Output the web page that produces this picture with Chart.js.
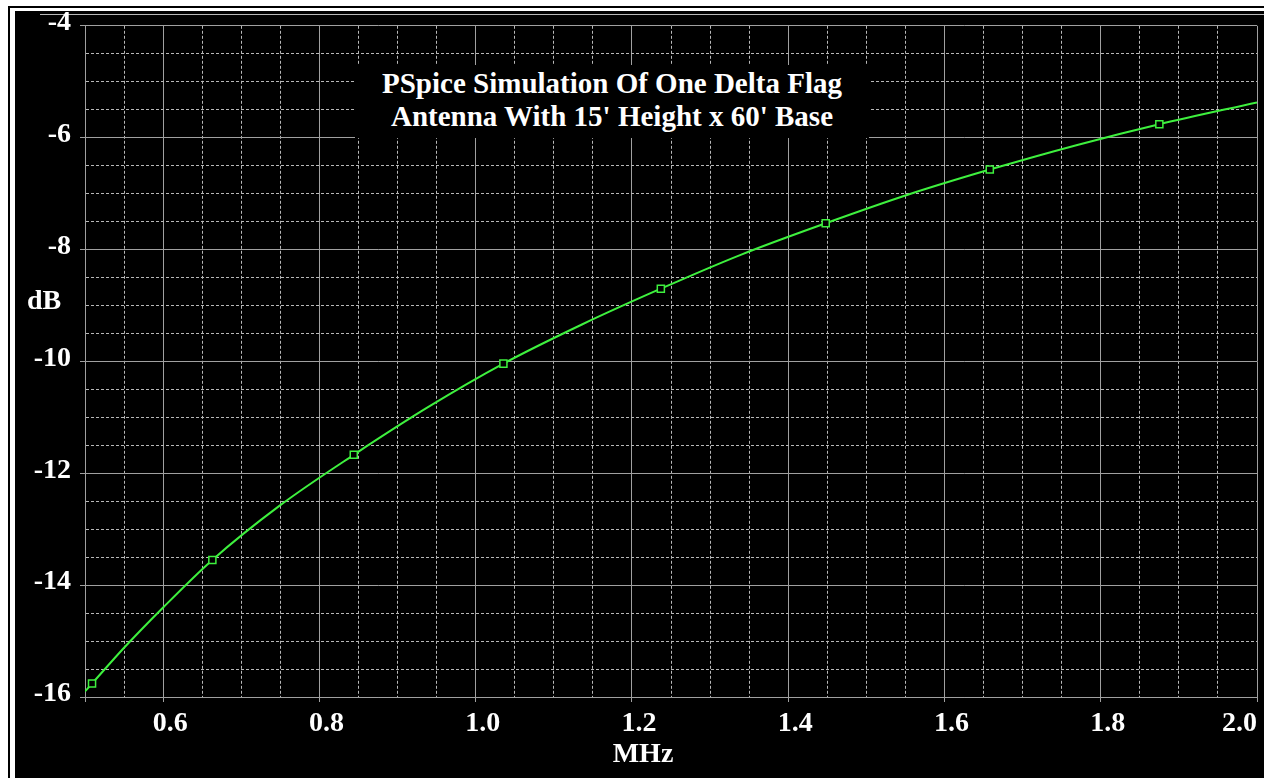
<!DOCTYPE html>
<html>
<head>
<meta charset="utf-8">
<script src="https://cdn.jsdelivr.net/npm/chart.js@4.4.0/dist/chart.umd.min.js"></script>
<style>
html,body{margin:0;padding:0;background:#fff;width:1264px;height:778px;overflow:hidden;}
#frameL{position:absolute;left:8px;top:6px;width:2px;height:772px;background:#000;}
#frameT{position:absolute;left:8px;top:6px;width:1256px;height:2px;background:#000;}
#panel{position:absolute;left:15px;top:11px;width:1249px;height:767px;background:#000;}
#topline{position:absolute;left:40px;top:14px;width:1224px;height:1px;background:#b8b8b8;}
#chart{position:absolute;left:0;top:0;}
#title{position:absolute;left:355px;top:65px;width:514px;height:71px;padding-top:2px;background:#000;color:#fff;
  font-family:"Liberation Serif","Times New Roman",serif;font-weight:bold;font-size:29px;line-height:32.7px;text-align:center;white-space:nowrap;}
#ylab{position:absolute;left:27px;top:286px;color:#fff;font-family:"Liberation Serif","Times New Roman",serif;font-weight:bold;font-size:28px;line-height:28px;}
</style>
</head>
<body>
<div id="frameL"></div>
<div id="frameT"></div>
<div id="panel"></div>
<div id="topline"></div>
<canvas id="chart" width="1264" height="778"></canvas>
<div id="title">PSpice Simulation Of One Delta Flag<br>Antenna With 15' Height x 60' Base</div>
<div id="ylab">dB</div>
<script>
// ---- data ----
const freqMHz = [0.5, 0.509, 0.55, 0.6, 0.663, 0.75, 0.844, 0.94, 1.0355, 1.136, 1.237, 1.34, 1.448, 1.553, 1.658, 1.77, 1.875, 2.0];
const gainDb  = [-15.90, -15.76, -15.12, -14.40, -13.55, -12.57, -11.67, -10.81, -10.04, -9.34, -8.70, -8.09, -7.53, -7.02, -6.57, -6.13, -5.76, -5.37];
const markerMHz = [0.509, 0.663, 0.844, 1.0355, 1.237, 1.448, 1.658, 1.875];
const markerDb  = [-15.76, -13.55, -11.67, -10.04, -8.70, -7.53, -6.57, -5.76];
const xTickLabels = ['0.6', '0.8', '1.0', '1.2', '1.4', '1.6', '1.8', '2.0'];
const yTickLabels = ['-16', '-14', '-12', '-10', '-8', '-6', '-4'];
const xAxisTitle = 'MHz';
const xMin = 0.5, xMax = 2.0, xStep = 0.05;
const yMin = -16, yMax = -4, yStep = 0.5;

// ---- styling ----
const GREEN = '#3ef03e';
const MAJOR = '#a0a0a0';
const MINOR = '#b8b8b8';
const FONT = {family: "'Liberation Serif', 'Times New Roman', serif", size: 28, weight: 'bold'};

const near = (a, b) => Math.abs(a - b) < 1e-6;
const isMajorX = v => near(v * 5, Math.round(v * 5)) || near(v, xMin);
const isMajorY = v => near(v / 2, Math.round(v / 2));

const lineData = freqMHz.map((f, i) => ({x: f, y: gainDb[i]}));
const markData = markerMHz.map((f, i) => ({x: f, y: markerDb[i]}));

new Chart(document.getElementById('chart'), {
  type: 'line',
  data: {
    datasets: [
      {
        data: markData,
        showLine: false,
        pointStyle: 'rect',
        pointRadius: 5,
        pointBorderWidth: 1.5,
        pointBorderColor: GREEN,
        pointBackgroundColor: '#000'
      },
      {
        data: lineData,
        borderColor: GREEN,
        borderWidth: 2,
        pointRadius: 0,
        cubicInterpolationMode: 'monotone',
        fill: false
      }
    ]
  },
  options: {
    responsive: false,
    animation: false,
    events: [],
    layout: {padding: {left: 0, top: 22, right: 7, bottom: 0}},
    plugins: {legend: {display: false}, tooltip: {enabled: false}, title: {display: false}},
    scales: {
      x: {
        type: 'linear',
        position: 'bottom',
        min: xMin,
        max: xMax,
        afterFit: s => { s.height = 81; },
        ticks: {
          stepSize: xStep,
          autoSkip: false,
          maxRotation: 0,
          minRotation: 0,
          align: 'inner',
          labelOffset: 7,
          padding: 5,
          color: '#fff',
          font: FONT,
          callback: (v) => {
            const lbl = xTickLabels.find(t => near(parseFloat(t), v));
            if (!lbl) return '';
            return near(v, xMax) ? lbl + '\u00a0' : lbl;
          }
        },
        grid: {
          color: c => (c.tick && isMajorX(c.tick.value)) ? MAJOR : MINOR,
          lineWidth: 1,
          tickLength: 5,
          tickColor: c => (c.tick && isMajorX(c.tick.value)) ? MAJOR : 'rgba(0,0,0,0)'
        },
        border: {
          color: MAJOR,
          width: 1,
          dash: c => (c.tick && !isMajorX(c.tick.value)) ? [3, 2] : []
        },
        title: {
          display: true,
          text: xAxisTitle + '\u00a0'.repeat(8),
          color: '#fff',
          font: FONT,
          padding: {top: 0, bottom: 6}
        }
      },
      y: {
        type: 'linear',
        position: 'left',
        min: yMin,
        max: yMax,
        afterFit: s => { s.width = 85; },
        ticks: {
          stepSize: yStep,
          autoSkip: false,
          padding: 9,
          labelOffset: -3,
          color: '#fff',
          font: FONT,
          callback: (v) => yTickLabels.find(t => near(parseFloat(t), v)) || ''
        },
        grid: {
          color: c => (c.tick && isMajorY(c.tick.value)) ? MAJOR : MINOR,
          lineWidth: 1,
          tickLength: 5,
          tickColor: c => (c.tick && isMajorY(c.tick.value)) ? MAJOR : 'rgba(0,0,0,0)'
        },
        border: {
          color: MAJOR,
          width: 1,
          dash: c => (c.tick && !isMajorY(c.tick.value)) ? [3, 2] : []
        }
      }
    }
  }
});
</script>
</body>
</html>
